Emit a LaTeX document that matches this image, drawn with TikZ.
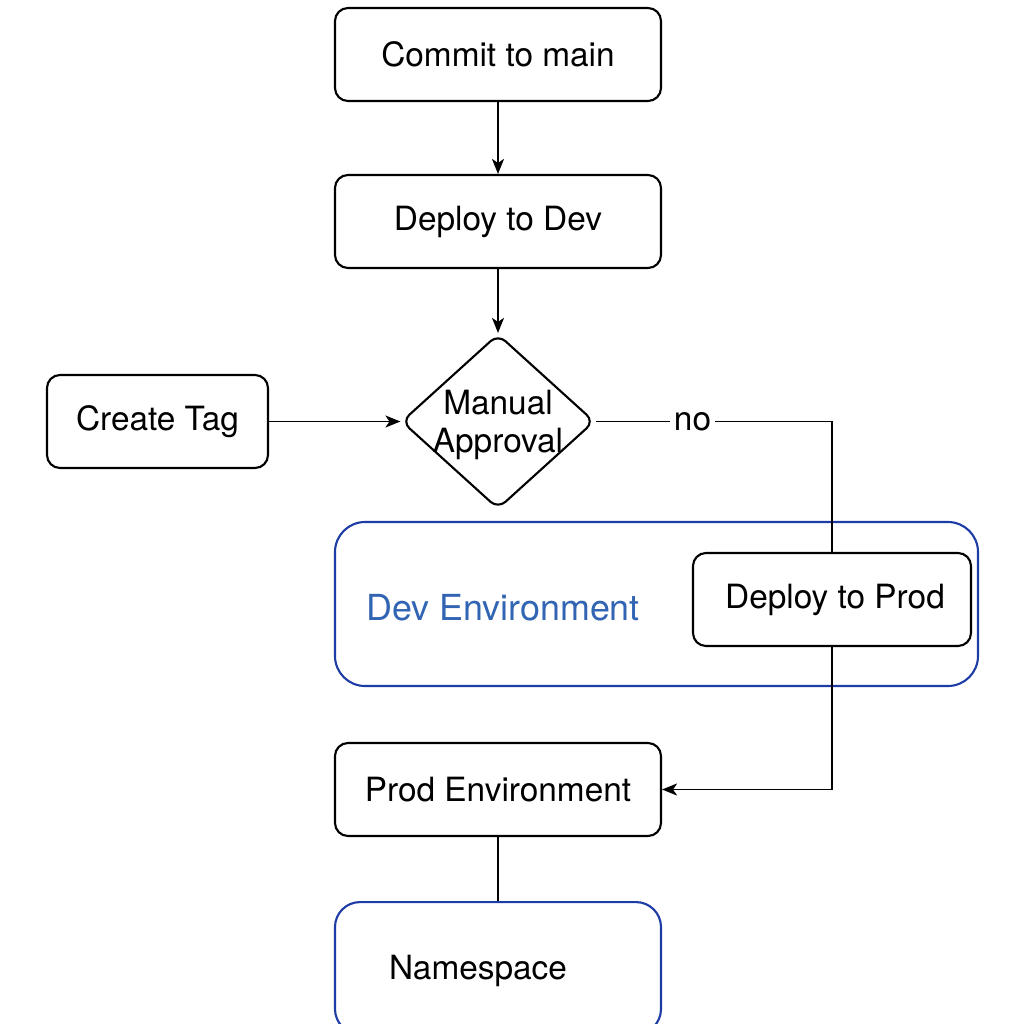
\documentclass[tikz,border=0pt]{standalone}
\usepackage{fontspec}
\setmainfont{TeX Gyre Heros}
\usetikzlibrary{shapes.geometric,arrows.meta}
\definecolor{envblue}{RGB}{30,60,165}
\definecolor{labelblue}{RGB}{50,100,180}
\tikzset{
  stepbox/.style={draw, line width=0.6pt, rounded corners=0.13cm, fill=white,
    minimum width=3.26cm, minimum height=0.93cm},
  envbox/.style={draw=envblue, line width=0.6pt, rounded corners=0.3cm},
  flow/.style={line width=0.5pt, -{Stealth[length=1.5mm,width=1.2mm,inset=0.4mm]}},
  link/.style={line width=0.5pt}
}
\begin{document}
\begin{tikzpicture}[font=\fontsize{9.5}{10.8}\selectfont]
\useasboundingbox (0,0) rectangle (10.24,-10.24);
\clip (0,0) rectangle (10.24,-10.24);
% environments
\node[envbox, minimum width=6.43cm, minimum height=1.64cm] (devenv) at (6.565,-6.04) {};
\node[text=labelblue, font=\fontsize{10.2}{12}\selectfont] (devlabel) at (5.03,-6.08) {Dev Environment};
\node[envbox, rounded corners=0.25cm, minimum width=3.26cm, minimum height=1.32cm, anchor=north] (ns) at (4.98,-9.01) {};
\node (nslabel) at (4.78,-9.71) {Namespace};
% steps
\node[stepbox] (commit) at (4.98,-0.545) {Commit to main};
\node[stepbox] (devdeploy) at (4.98,-2.215) {Deploy to Dev};
\node[draw, shape=diamond, line width=0.6pt, rounded corners=0.1cm, inner sep=0pt,
  minimum width=1.93cm, minimum height=1.75cm] (approval) at (4.98,-4.215) {};
\node[align=center] (approvallabel) at (4.98,-4.25) {Manual\\Approval};
\node[stepbox, minimum width=2.21cm] (tag) at (1.575,-4.215) {Create Tag};
\node[stepbox, minimum width=2.78cm] (proddeploy) at (8.32,-5.995) {\hspace{0.06cm}\raisebox{-0.03cm}{Deploy to Prod}};
\node[stepbox] (prodenv) at (4.98,-7.895) {Prod Environment};
% connectors
\draw[flow] (commit) -- (devdeploy);
\draw[flow] (devdeploy) -- (approval);
\draw[flow] (tag) -- (approval);
\draw[link] (approval.east) -- node[pos=0.41, fill=white, inner sep=1pt] {no}
  (approval.east -| proddeploy.north) -- (proddeploy.north);
\draw[flow] (proddeploy.south) |- (prodenv.east);
\draw[link] (prodenv) -- (ns);
\end{tikzpicture}
\end{document}
